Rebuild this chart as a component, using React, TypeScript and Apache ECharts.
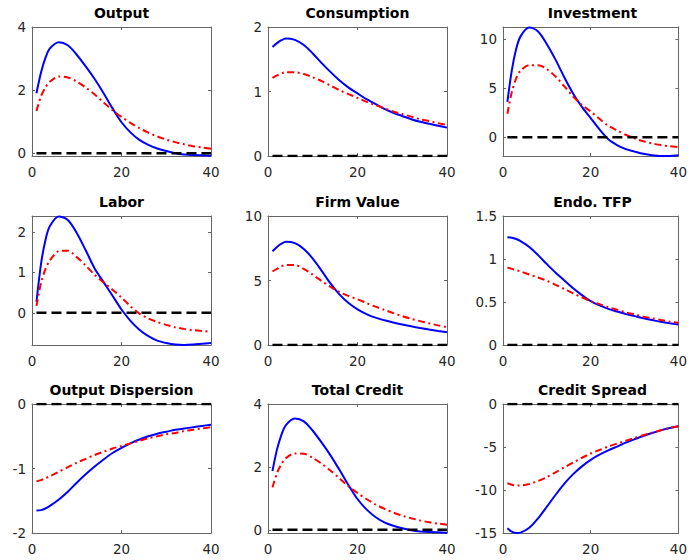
import React, { useEffect, useRef } from "react";
import * as echarts from "echarts";

const periods = [1, 2, 3, 4, 6, 8, 10, 12, 14, 16, 18, 20, 22, 24, 26, 28, 30, 32, 34, 36, 38, 40];
const zeroPeriods = [1, 40];
const zeroLevel = [0, 0];

const titles = ["Output", "Consumption", "Investment", "Labor", "Firm Value", "Endo. TFP", "Output Dispersion", "Total Credit", "Credit Spread"];

const outputBlue = [1.90, 2.55, 3.02, 3.32, 3.52, 3.42, 3.12, 2.75, 2.35, 1.90, 1.42, 0.98, 0.66, 0.42, 0.26, 0.15, 0.07, 0.00, -0.04, -0.06, -0.07, -0.08];
const outputRed = [1.34, 1.80, 2.08, 2.27, 2.43, 2.40, 2.27, 2.08, 1.86, 1.61, 1.36, 1.15, 0.96, 0.79, 0.65, 0.53, 0.43, 0.35, 0.28, 0.22, 0.18, 0.14];
const consBlue = [1.69, 1.75, 1.795, 1.82, 1.80, 1.72, 1.59, 1.44, 1.30, 1.17, 1.06, 0.97, 0.88, 0.81, 0.73, 0.67, 0.62, 0.57, 0.53, 0.50, 0.47, 0.44];
const consRed = [1.21, 1.25, 1.28, 1.30, 1.30, 1.27, 1.22, 1.16, 1.09, 1.02, 0.96, 0.90, 0.84, 0.79, 0.74, 0.69, 0.65, 0.61, 0.57, 0.54, 0.51, 0.48];
const invBlue = [3.6, 6.8, 9.0, 10.3, 11.2, 10.8, 9.5, 7.9, 6.1, 4.45, 3.1, 1.95, 0.8, -0.2, -0.8, -1.22, -1.47, -1.7, -1.85, -1.93, -1.92, -1.85];
const invRed = [2.4, 4.6, 6.0, 6.8, 7.35, 7.35, 6.95, 6.2, 5.2, 4.15, 3.3, 2.62, 1.88, 1.17, 0.7, 0.25, -0.12, -0.42, -0.63, -0.8, -0.92, -1.0];
const laborBlue = [0.27, 1.2, 1.8, 2.15, 2.39, 2.3, 1.98, 1.55, 1.1, 0.76, 0.42, 0.08, -0.2, -0.42, -0.58, -0.69, -0.75, -0.79, -0.8, -0.79, -0.77, -0.75];
const laborRed = [0.17, 0.73, 1.08, 1.3, 1.53, 1.54, 1.38, 1.17, 0.94, 0.75, 0.57, 0.38, 0.16, -0.02, -0.14, -0.23, -0.3, -0.36, -0.4, -0.43, -0.45, -0.47];
const firmBlue = [7.27, 7.6, 7.85, 8.0, 7.9, 7.45, 6.7, 5.75, 4.75, 3.9, 3.25, 2.76, 2.4, 2.12, 1.92, 1.75, 1.59, 1.45, 1.32, 1.2, 1.09, 0.99];
const firmRed = [5.7, 5.9, 6.1, 6.2, 6.2, 5.9, 5.45, 4.95, 4.5, 4.1, 3.8, 3.54, 3.25, 2.97, 2.72, 2.47, 2.24, 2.03, 1.85, 1.68, 1.52, 1.38];
const tfpBlue = [1.254, 1.248, 1.232, 1.208, 1.14, 1.045, 0.94, 0.84, 0.75, 0.66, 0.58, 0.51, 0.46, 0.42, 0.39, 0.36, 0.336, 0.31, 0.29, 0.27, 0.253, 0.238];
const tfpRed = [0.9, 0.885, 0.87, 0.855, 0.82, 0.785, 0.746, 0.7, 0.65, 0.6, 0.555, 0.51, 0.475, 0.44, 0.41, 0.38, 0.355, 0.33, 0.31, 0.29, 0.272, 0.258];
const dispBlue = [-1.65, -1.645, -1.62, -1.58, -1.48, -1.36, -1.22, -1.09, -0.97, -0.86, -0.76, -0.68, -0.61, -0.55, -0.5, -0.46, -0.43, -0.4, -0.38, -0.36, -0.34, -0.32];
const dispRed = [-1.2, -1.18, -1.15, -1.12, -1.05, -0.98, -0.91, -0.85, -0.79, -0.74, -0.69, -0.65, -0.61, -0.57, -0.53, -0.5, -0.47, -0.45, -0.42, -0.4, -0.38, -0.36];
const creditBlue = [1.87, 2.55, 3.02, 3.33, 3.54, 3.45, 3.15, 2.77, 2.36, 1.9, 1.42, 0.98, 0.65, 0.41, 0.24, 0.13, 0.05, -0.01, -0.05, -0.07, -0.08, -0.09];
const creditRed = [1.35, 1.8, 2.09, 2.28, 2.43, 2.42, 2.29, 2.1, 1.88, 1.63, 1.38, 1.17, 0.98, 0.81, 0.67, 0.55, 0.45, 0.37, 0.3, 0.24, 0.2, 0.16];
const spreadBlue = [-14.45, -14.85, -15.0, -14.95, -14.4, -13.3, -11.95, -10.55, -9.25, -8.15, -7.25, -6.5, -5.9, -5.4, -4.95, -4.5, -4.1, -3.72, -3.38, -3.07, -2.8, -2.58];
const spreadRed = [-9.2, -9.4, -9.47, -9.47, -9.3, -8.95, -8.5, -7.95, -7.35, -6.8, -6.25, -5.76, -5.35, -4.95, -4.6, -4.28, -3.95, -3.63, -3.33, -3.05, -2.8, -2.58];

const blueSeries = [outputBlue, consBlue, invBlue, laborBlue, firmBlue, tfpBlue, dispBlue, creditBlue, spreadBlue];
const redSeries = [outputRed, consRed, invRed, laborRed, firmRed, tfpRed, dispRed, creditRed, spreadRed];
const yMins = [-0.09, 0, -1.92, -0.8, 0, 0, -2, -0.1, -15];
const yMaxs = [4, 2, 11.26, 2.4, 10, 1.5, 0, 4, 0];
const yTicks = [[0, 2, 4], [0, 1, 2], [0, 5, 10], [0, 1, 2], [0, 5, 10], [0, 0.5, 1, 1.5], [-2, -1, 0], [0, 2, 4], [-15, -10, -5, 0]];

const FONT = "'DejaVu Sans', Verdana, sans-serif";
const AXIS_COLOR = "#666666";
const LABEL_COLOR = "#262626";

const colLefts = [32, 268, 503];
const rowTops = [27, 216, 404];
const gridW = 179;
const gridH = 129;

function pairs(xs: number[], ys: number[]) {
  return xs.map((x, i) => [x, ys[i]]);
}

export default function App() {
  const ref = useRef<HTMLDivElement>(null);
  useEffect(() => {
    if (!ref.current) return;
    const chart = echarts.init(ref.current, null, { renderer: "svg" });
    const grid: any[] = [];
    const xAxis: any[] = [];
    const yAxis: any[] = [];
    const series: any[] = [];
    const title: any[] = [];
    titles.forEach((t, i) => {
      const col = i % 3;
      const row = Math.floor(i / 3);
      const left = colLefts[col];
      const top = rowTops[row];
      grid.push({ left, top, width: gridW, height: gridH, show: false });
      title.push({
        text: t,
        left: left + gridW / 2,
        top: top - 21,
        textAlign: "center",
        padding: 0,
        textStyle: { fontFamily: FONT, fontSize: 14, fontWeight: "bold", color: "#000" },
      });
      const lineStyle = { color: AXIS_COLOR, width: 1 };
      const baseX = {
        gridIndex: i,
        type: "value",
        min: 0,
        max: 40,
        interval: 20,
        splitLine: { show: false },
        axisLine: { show: true, onZero: false, lineStyle },
        axisTick: { show: true, inside: true, length: 3, lineStyle },
      };
      xAxis.push({
        ...baseX,
        position: "bottom",
        axisLabel: { color: LABEL_COLOR, fontSize: 13.5, fontFamily: FONT, margin: 9 },
      });
      xAxis.push({ ...baseX, position: "top", axisLabel: { show: false } });
      const baseY = {
        gridIndex: i,
        type: "value",
        min: yMins[i],
        max: yMaxs[i],
        splitLine: { show: false },
        axisLine: { show: true, onZero: false, lineStyle },
        axisTick: { show: true, inside: true, length: 3, lineStyle, customValues: yTicks[i] },
      };
      yAxis.push({
        ...baseY,
        position: "left",
        axisLabel: { color: LABEL_COLOR, fontSize: 13.5, fontFamily: FONT, margin: 6, customValues: yTicks[i] },
      });
      yAxis.push({ ...baseY, position: "right", axisLabel: { show: false } });
      const common = { xAxisIndex: 2 * i, yAxisIndex: 2 * i, type: "line", showSymbol: false, symbol: "none", clip: true, silent: true };
      series.push({
        ...common,
        data: pairs(periods, blueSeries[i]),
        smooth: 0.3,
        lineStyle: { color: "#0000ff", width: 2 },
        z: 3,
      });
      series.push({
        ...common,
        data: pairs(periods, redSeries[i]),
        smooth: 0.3,
        lineStyle: { color: "#ff0000", width: 2, type: [7, 3.5, 2, 3.5] },
        z: 4,
      });
      series.push({
        ...common,
        data: pairs(zeroPeriods, zeroLevel),
        lineStyle: { color: "#000000", width: 2.5, type: [10, 5] },
        z: 5,
      });
    });
    chart.setOption({
      animation: false,
      backgroundColor: "#ffffff",
      title,
      grid,
      xAxis,
      yAxis,
      series,
    });
    return () => chart.dispose();
  }, []);
  return <div ref={ref} style={{ position: "fixed", left: 0, top: 0, width: 690, height: 560 }} />;
}
